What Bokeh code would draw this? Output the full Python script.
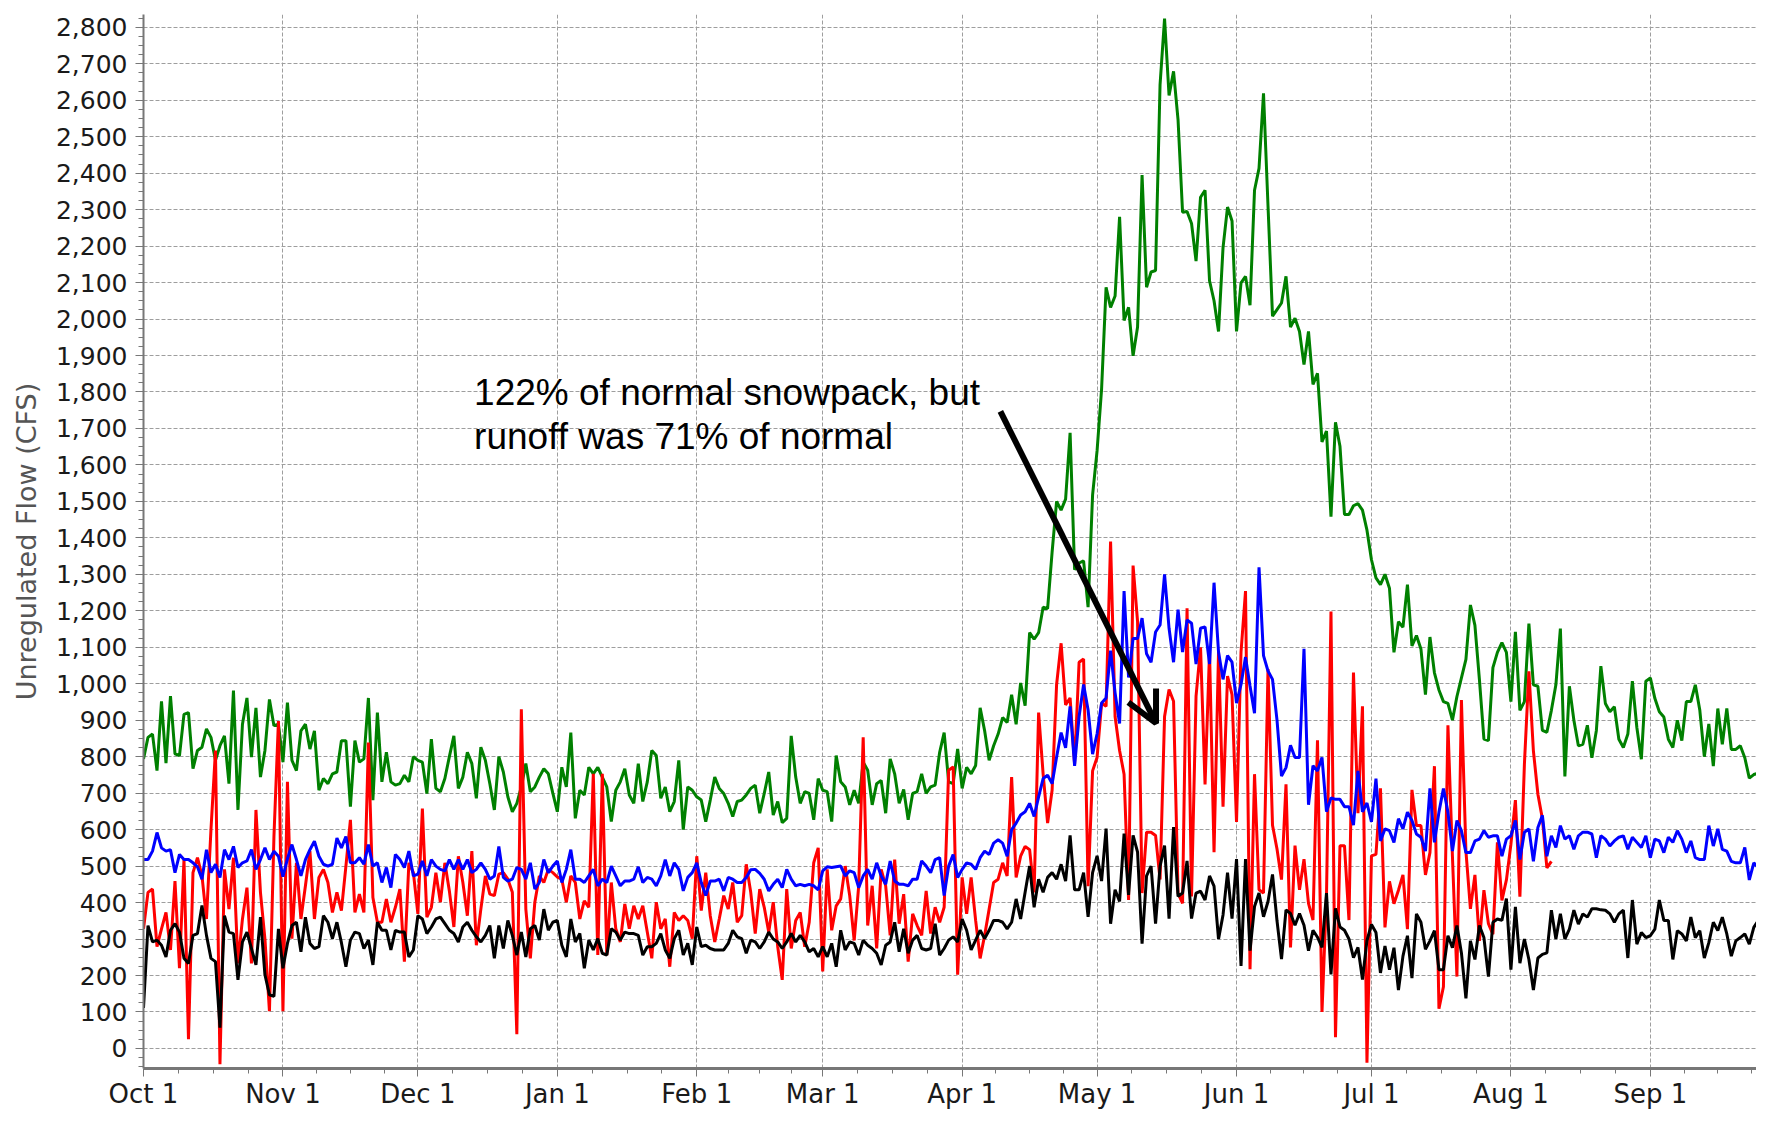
from bokeh.plotting import figure
from bokeh.models import (FixedTicker, NumeralTickFormatter, Range1d, Label,
                          Arrow, OpenHead)
from bokeh.embed import file_html
from bokeh.resources import INLINE

# ---------------- data (daily values, water year starting Oct 1) ----------------
month_labels = ["Oct 1", "Nov 1", "Dec 1", "Jan 1", "Feb 1", "Mar 1",
                "Apr 1", "May 1", "Jun 1", "Jul 1", "Aug 1", "Sep 1"]
month_lengths = [31, 30, 31, 31, 28, 31, 30, 31, 30, 31, 31, 30]

green_flow = [
    794, 853, 862, 762, 952, 782, 966, 808, 803, 916, 921, 767, 817, 826, 876, 853, 790, 830, 857, 726, 981, 654, 889, 961, 799, 934, 744, 817, 957, 885, 889,
    785, 948, 790, 762, 871, 889, 821, 871, 708, 740, 726, 753, 758, 844, 844, 663, 844, 785, 794, 961, 681, 921, 731, 812, 731, 722, 726, 749, 731, 800,
    790, 785, 699, 848, 713, 704, 740, 800, 857, 713, 744, 812, 781, 686, 826, 790, 726, 654, 800, 758, 690, 649, 672, 717, 781, 704, 717, 744, 767, 753, 700,
    649, 771, 717, 866, 631, 708, 695, 771, 753, 771, 744, 717, 622, 708, 731, 767, 695, 672, 781, 677, 731, 817, 803, 686, 717, 649, 677, 790, 600, 717, 708,
    690, 681, 622, 681, 744, 713, 699, 672, 636, 677, 681, 695, 713, 722, 645, 699, 758, 640, 677, 619, 631, 857, 744, 672, 704, 699, 627, 740,
    708, 704, 622, 803, 731, 717, 668, 708, 672, 785, 763, 668, 726, 735, 645, 794, 753, 672, 710, 627, 699, 704, 753, 699, 717, 722, 812, 866, 731, 726, 821,
    713, 771, 753, 776, 934, 871, 790, 830, 862, 907, 894, 970, 889, 1002, 940, 1140, 1122, 1140, 1210, 1206, 1361, 1500, 1476, 1506, 1688, 1313, 1331, 1337, 1210, 1518,
    1639, 1808, 2087, 2032, 2063, 2280, 1996, 2032, 1899, 1978, 2395, 2087, 2129, 2133, 2643, 2824, 2613, 2679, 2546, 2293, 2295, 2262, 2159, 2334, 2353, 2105, 2050, 1966, 2196, 2307, 2269,
    1966, 2099, 2117, 2038, 2353, 2413, 2619, 2310, 2008, 2026, 2044, 2117, 1978, 2002, 1966, 1875, 1966, 1821, 1851, 1663, 1693, 1458, 1717, 1651, 1464, 1464, 1488, 1494, 1476, 1421,
    1340, 1290, 1272, 1300, 1262, 1086, 1170, 1155, 1272, 1104, 1132, 1095, 970, 1128, 1030, 983, 951, 946, 900, 965, 1016, 1067, 1216, 1160, 1011, 848, 844, 1044, 1086, 1113, 1086,
    951, 1142, 927, 951, 1165, 997, 993, 872, 867, 927, 997, 1151, 746, 993, 900, 830, 834, 886, 797, 872, 1048, 946, 923, 937, 848, 825, 862, 1007, 880, 793, 1007,
    1016, 960, 923, 909, 848, 825, 900, 844, 951, 951, 997, 927, 800, 890, 774, 932, 834, 932, 820, 820, 830, 797, 741, 751, 755, 755, 927, 779, 760,
]

blue_flow = [
    518, 518, 541, 592, 550, 541, 545, 482, 532, 518, 518, 509, 498, 464, 545, 482, 505, 469, 545, 518, 554, 496, 509, 514, 545, 491, 518, 550, 518, 541, 527,
    471, 520, 559, 518, 473, 518, 545, 568, 527, 505, 500, 505, 577, 550, 581, 509, 509, 523, 505, 559, 500, 509, 455, 496, 441, 532, 518, 496, 541, 473,
    478, 514, 473, 518, 500, 491, 487, 518, 491, 518, 491, 518, 482, 491, 509, 491, 464, 473, 554, 469, 459, 464, 496, 491, 464, 509, 437, 455, 518, 482, 500,
    514, 455, 491, 545, 464, 464, 455, 473, 491, 446, 464, 455, 500, 473, 446, 459, 459, 464, 498, 455, 469, 464, 446, 473, 518, 473, 509, 491, 432, 469, 482,
    509, 455, 419, 459, 459, 464, 432, 469, 464, 455, 455, 469, 490, 491, 480, 464, 432, 450, 464, 441, 491, 464, 446, 450, 446, 450, 446, 435,
    487, 498, 496, 498, 500, 473, 487, 482, 441, 473, 491, 464, 509, 473, 450, 514, 459, 450, 450, 446, 464, 464, 514, 500, 482, 518, 523, 419, 500, 532, 469,
    491, 509, 505, 491, 523, 541, 532, 563, 572, 563, 527, 600, 618, 640, 649, 672, 636, 690, 740, 749, 726, 799, 866, 824, 938, 775, 910, 998, 928, 807,
    863, 947, 961, 1091, 975, 891, 1254, 1017, 1124, 1124, 1180, 1082, 1059, 1142, 1161, 1300, 1152, 1059, 1203, 1087, 1175, 1166, 1054, 1152, 1156, 1054, 1277, 1087, 1012, 1077, 1059,
    947, 998, 1073, 994, 919, 1319, 1077, 1035, 1012, 900, 747, 770, 831, 798, 798, 1096, 668, 775, 761, 798, 649, 687, 683, 683, 663, 663, 612, 761, 649, 673,
    621, 740, 569, 602, 597, 565, 630, 602, 648, 625, 588, 579, 541, 713, 565, 648, 713, 648, 541, 625, 597, 537, 537, 569, 574, 597, 579, 583, 583, 527, 574,
    583, 625, 518, 593, 602, 513, 606, 639, 527, 583, 551, 611, 574, 583, 546, 583, 593, 593, 588, 523, 583, 574, 555, 569, 579, 583, 546, 579, 565, 551, 583,
    523, 574, 569, 537, 579, 565, 597, 574, 537, 569, 523, 518, 518, 611, 555, 602, 546, 541, 513, 509, 509, 551, 462, 509, 495, 486, 555, 486, 500,
]

red_flow = [
    328, 428, 437, 279, 328, 373, 270, 459, 220, 518, 25, 482, 523, 473, 355, 600, 817, -43, 491, 382, 523, 233, 355, 441, 233, 654, 428, 300, 102, 581, 898,
    102, 731, 301, 509, 355, 446, 541, 355, 469, 491, 455, 373, 428, 378, 500, 627, 373, 423, 373, 839, 414, 346, 346, 410, 346, 387, 437, 238, 509, 482,
    369, 658, 360, 387, 482, 401, 509, 432, 333, 527, 455, 364, 541, 283, 382, 473, 423, 419, 478, 482, 464, 428, 39, 930, 382, 247, 401, 473, 455, 491, 482,
    470, 464, 401, 473, 455, 355, 405, 387, 753, 256, 753, 256, 455, 328, 292, 396, 328, 391, 355, 391, 319, 247, 401, 328, 355, 224, 373, 351, 364, 351, 301,
    527, 378, 482, 364, 292, 355, 419, 382, 455, 346, 364, 505, 428, 315, 437, 387, 319, 401, 279, 188, 437, 274, 351, 373, 279, 346, 509, 550,
    211, 491, 324, 391, 410, 500, 419, 296, 446, 853, 337, 446, 274, 491, 446, 310, 518, 342, 423, 238, 369, 337, 310, 432, 315, 387, 346, 387, 763, 772, 202,
    469, 369, 469, 351, 247, 310, 382, 455, 464, 509, 473, 744, 469, 527, 554, 545, 428, 921, 753, 618, 708, 998, 1111, 942, 961, 780, 1059, 1068, 445, 761,
    798, 947, 938, 1390, 910, 817, 752, 407, 1324, 1170, 426, 593, 593, 584, 463, 910, 984, 952, 426, 398, 1207, 417, 966, 1100, 724, 1087, 538, 1087, 663, 1021, 970,
    621, 1087, 1254, 217, 752, 435, 426, 1040, 612, 547, 463, 724, 277, 556, 435, 519, 398, 352, 845, 100, 417, 1198, 31, 556, 556, 352, 1031, 645, 938, -39,
    528, 532, 713, 332, 458, 397, 434, 476, 327, 709, 611, 611, 476, 537, 774, 109, 169, 886, 527, 197, 955, 541, 383, 476, 295, 434, 342, 313, 565, 406, 462,
    560, 681, 416, 779, 1034, 816, 697, 630, 495, 513,
]

black_flow = [
    111, 337, 292, 297, 283, 251, 324, 342, 319, 247, 233, 310, 315, 392, 310, 247, 238, 57, 364, 319, 315, 188, 292, 319, 274, 229, 360, 202, 147, 143, 328,
    220, 288, 337, 346, 265, 360, 288, 274, 279, 364, 346, 301, 346, 290, 224, 297, 319, 315, 274, 297, 229, 346, 324, 324, 270, 324, 319, 319, 251, 270,
    364, 355, 315, 333, 355, 360, 342, 324, 315, 292, 333, 346, 324, 306, 292, 310, 337, 247, 337, 274, 351, 310, 256, 319, 251, 328, 337, 297, 382, 324, 346,
    351, 283, 251, 355, 292, 315, 220, 297, 270, 301, 261, 256, 328, 319, 297, 319, 315, 315, 310, 256, 279, 279, 288, 315, 270, 247, 301, 324, 256, 288, 229,
    333, 279, 283, 274, 270, 270, 270, 288, 324, 306, 301, 261, 297, 292, 274, 292, 319, 300, 292, 274, 292, 315, 292, 310, 292, 265, 274, 251,
    279, 251, 288, 224, 324, 270, 292, 288, 256, 297, 283, 274, 261, 229, 283, 292, 346, 265, 328, 261, 297, 310, 274, 270, 274, 342, 256, 274, 297, 306, 292,
    355, 324, 270, 297, 324, 301, 324, 351, 351, 346, 328, 346, 410, 355, 428, 500, 387, 464, 428, 469, 482, 464, 505, 459, 584, 435, 435, 482, 361, 482,
    528, 459, 603, 342, 435, 403, 589, 421, 584, 538, 287, 473, 500, 342, 500, 556, 356, 607, 417, 426, 514, 356, 426, 431, 407, 473, 445, 300, 366, 482, 356,
    519, 226, 519, 268, 389, 426, 361, 403, 477, 350, 245, 380, 370, 338, 370, 338, 268, 324, 305, 277, 426, 203, 384, 333, 324, 300, 249, 277, 189, 296,
    340, 318, 207, 281, 216, 276, 160, 253, 309, 193, 369, 346, 272, 295, 323, 216, 216, 309, 276, 337, 262, 137, 295, 244, 337, 304, 197, 346, 355, 351, 411,
    216, 388, 234, 300, 244, 160, 248, 258, 262, 379, 300, 369, 300, 327, 379, 341, 369, 360, 383, 383, 380, 379, 369, 346, 369, 379, 248, 407, 286, 318, 304,
    309, 327, 407, 351, 351, 244, 323, 314, 295, 360, 304, 323, 248, 290, 346, 323, 360, 314, 253, 295, 304, 314, 286, 332, 351, 351, 374, 216, 220,
]

annotation_lines = ["122% of normal snowpack, but", "runoff was 71% of normal"]

# ---------------- ticks ----------------
month_starts = []
acc = 0
for L in month_lengths:
    month_starts.append(acc)
    acc += L
minor_x = [s + k * L / 4.0 for s, L in zip(month_starts, month_lengths) for k in (1, 2, 3)]

# ---------------- figure ----------------
p = figure(width=1756, height=1111, output_backend="svg", toolbar_location=None,
           x_range=Range1d(0, 358.6), y_range=Range1d(-55, 2835),
           min_border_left=143, min_border_right=0, min_border_top=14, min_border_bottom=0)
p.outline_line_color = None
p.background_fill_color = "white"
p.border_fill_color = "white"

series = [(green_flow, "#008000"), (red_flow, "#ff0000"),
          (blue_flow, "#0000ff"), (black_flow, "#000000")]
for vals, col in series:
    p.line(x=list(range(len(vals))), y=vals, line_color=col, line_width=3.0)

# grid
p.xgrid.ticker = FixedTicker(ticks=month_starts)
p.ygrid.ticker = FixedTicker(ticks=list(range(0, 2801, 100)))
p.grid.grid_line_color = "#9e9e9e"
p.grid.grid_line_dash = "4 2"
p.grid.grid_line_width = 1

# x axis
xa = p.xaxis[0]
xa.ticker = FixedTicker(ticks=month_starts, minor_ticks=minor_x)
xa.major_label_overrides = {s: lab for s, lab in zip(month_starts, month_labels)}
xa.axis_line_color = "#777777"
xa.axis_line_width = 3
xa.major_tick_line_color = "#777777"
xa.minor_tick_line_color = "#777777"
xa.major_tick_out = 8
xa.major_tick_in = 0
xa.minor_tick_out = 5
xa.minor_tick_in = 0
xa.major_label_text_font = "DejaVu Sans"
xa.major_label_text_font_size = "26px"
xa.major_label_text_color = "#1a1a1a"
xa.major_label_standoff = 2

# y axis
ya = p.yaxis[0]
ya.ticker = FixedTicker(ticks=list(range(0, 2801, 100)),
                        minor_ticks=list(range(-50, 2826, 25)))
ya.formatter = NumeralTickFormatter(format="0,0")
ya.axis_line_color = "#777777"
ya.axis_line_width = 2
ya.major_tick_line_color = "#777777"
ya.minor_tick_line_color = "#777777"
ya.major_tick_out = 8
ya.major_tick_in = 0
ya.minor_tick_out = 5
ya.minor_tick_in = 0
ya.major_label_text_font = "DejaVu Sans"
ya.major_label_text_font_size = "25px"
ya.major_label_text_color = "#1a1a1a"
ya.major_label_standoff = 8
ya.axis_label = "Unregulated Flow (CFS)"
ya.axis_label_text_font = "DejaVu Sans"
ya.axis_label_text_font_size = "27px"
ya.axis_label_text_font_style = "normal"
ya.axis_label_text_color = "#555555"
ya.axis_label_standoff = 11

# annotation
for i, txt in enumerate(annotation_lines):
    p.add_layout(Label(x=73.5, y=1799 - i * 122, text=txt,
                       text_font="Liberation Sans", text_font_size="37px",
                       text_color="black", text_baseline="alphabetic"))
p.add_layout(Arrow(end=OpenHead(size=31, line_width=6, line_color="black"),
                   x_start=190.5, y_start=1747, x_end=225.1, y_end=892,
                   line_width=6, line_color="black"))

open("out.html", "w").write(file_html(p, INLINE))
